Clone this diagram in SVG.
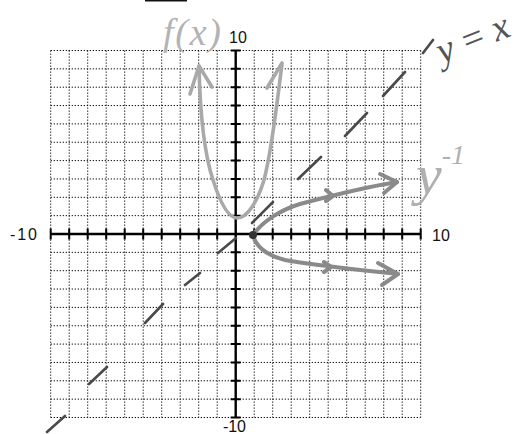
<svg xmlns="http://www.w3.org/2000/svg" width="530" height="434" viewBox="0 0 530 434">
<defs>
<style>
.grid{stroke:#111;stroke-width:1;stroke-dasharray:1.3 1.7;fill:none}
.axis{stroke:#000;stroke-width:2.4;fill:none}
.tick{stroke:#000;stroke-width:2;fill:none}
.num{font-family:"Liberation Sans",Arial,sans-serif;font-size:16px;fill:#111}
.dash{stroke:#4a4a4a;stroke-width:2.6;stroke-linecap:round;fill:none}
.fx{stroke:#a9a9a9;stroke-width:3.6;stroke-linecap:round;stroke-linejoin:round;fill:none}
.inv{stroke:#8a8a8a;stroke-width:4;stroke-linecap:round;stroke-linejoin:round;fill:none}
.hand{font-family:"Liberation Serif","Times New Roman",serif;font-style:italic}
</style>
</defs>
<rect width="530" height="434" fill="#fff"/>
<line x1="145" y1="0.5" x2="187" y2="0.5" stroke="#111" stroke-width="2"/>
<g id="grid">
<path class="grid" d="M50.7,50.5V417.5M69.2,50.5V417.5M87.7,50.5V417.5M106.2,50.5V417.5M124.7,50.5V417.5M143.2,50.5V417.5M161.7,50.5V417.5M180.2,50.5V417.5M198.7,50.5V417.5M217.2,50.5V417.5M254.2,50.5V417.5M272.7,50.5V417.5M291.2,50.5V417.5M309.7,50.5V417.5M328.2,50.5V417.5M346.7,50.5V417.5M365.2,50.5V417.5M383.7,50.5V417.5M402.2,50.5V417.5M420.7,50.5V417.5"/>
<path class="grid" d="M50.7,50.5H420.7M50.7,68.85H420.7M50.7,87.2H420.7M50.7,105.55H420.7M50.7,123.9H420.7M50.7,142.25H420.7M50.7,160.6H420.7M50.7,178.95H420.7M50.7,197.3H420.7M50.7,215.65H420.7M50.7,252.35H420.7M50.7,270.7H420.7M50.7,289.05H420.7M50.7,307.4H420.7M50.7,325.75H420.7M50.7,344.1H420.7M50.7,362.45H420.7M50.7,380.8H420.7M50.7,399.15H420.7M50.7,417.5H420.7"/>
</g>
<g id="axes">
<line class="axis" x1="50.7" y1="234" x2="420.7" y2="234"/>
<line class="axis" x1="235.7" y1="50.5" x2="235.7" y2="417.5"/>
<path class="tick" d="M50.7,228.5V239.5M69.2,228.5V239.5M87.7,228.5V239.5M106.2,228.5V239.5M124.7,228.5V239.5M143.2,228.5V239.5M161.7,228.5V239.5M180.2,228.5V239.5M198.7,228.5V239.5M217.2,228.5V239.5M254.2,228.5V239.5M272.7,228.5V239.5M291.2,228.5V239.5M309.7,228.5V239.5M328.2,228.5V239.5M346.7,228.5V239.5M365.2,228.5V239.5M383.7,228.5V239.5M402.2,228.5V239.5M420.7,228.5V239.5"/>
<path class="tick" d="M230.7,50.5H240.7M230.7,68.85H240.7M230.7,87.2H240.7M230.7,105.55H240.7M230.7,123.9H240.7M230.7,142.25H240.7M230.7,160.6H240.7M230.7,178.95H240.7M230.7,197.3H240.7M230.7,215.65H240.7M230.7,252.35H240.7M230.7,270.7H240.7M230.7,289.05H240.7M230.7,307.4H240.7M230.7,325.75H240.7M230.7,344.1H240.7M230.7,362.45H240.7M230.7,380.8H240.7M230.7,399.15H240.7M230.7,417.5H240.7"/>
</g>
<g id="labels">
<text class="num" x="229" y="43">10</text>
<text class="num" x="10" y="240" textLength="27">-10</text>
<text class="num" x="432" y="241">10</text>
<text class="num" x="223" y="432" font-size="14" textLength="23">-10</text>
</g>
<g id="line-y-equals-x">
<path class="dash" d="M423,53L433,40M383,96L405,72M345,136L367,113M298,179L321,157M252,223L273,202M218,253L236,238M185,285L200,273M145,323L163,304M89,384L107,367M47,432L65,416"/>
<text class="hand" x="442" y="64" font-size="38" fill="#555" transform="rotate(-22 442 64)" textLength="76">y=x</text>
</g>
<g id="curve-f">
<path class="fx" d="M199,66C200,110 203,150 213,180C220,202 228,218 237,218C248,218 258,200 264,180C272,150 276,110 282,64"/>
<path class="fx" d="M190,94L199,66L212,87M267,88L282,63"/>
<text class="hand" x="163" y="45" font-size="38" fill="#b3b3b3" textLength="58">f(x)</text>
</g>
<g id="curve-inverse">
<path class="inv" d="M253,235C262,222 280,210 300,204C330,196 360,188 397,182"/>
<path class="inv" d="M380,174L397,182L384,193"/>
<path class="inv" d="M253,235C255,245 265,255 285,260C320,266 360,270 398,274"/>
<path class="inv" d="M378,263L398,274L382,285"/>
<path class="inv" stroke-width="2.5" d="M326,190L333,196L326,201M324,262L331,267L324,272"/>
<circle cx="253" cy="235" r="4" fill="#333"/>
<text class="hand" x="416" y="194" font-size="58" fill="#b0b0b0">y<tspan font-size="28" dy="-30">-1</tspan></text>
</g>
</svg>
